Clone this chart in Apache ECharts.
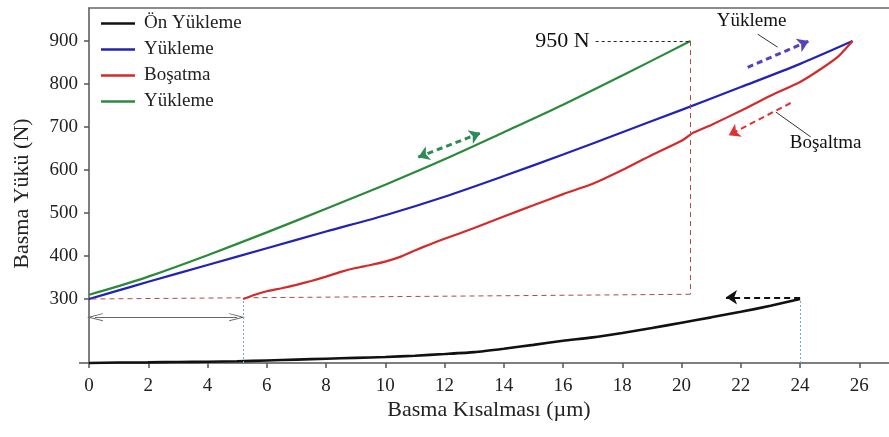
<!DOCTYPE html>
<html>
<head>
<meta charset="utf-8">
<script src="https://cdn.jsdelivr.net/npm/echarts@6/dist/echarts.min.js"></script>
<style>html,body{margin:0;padding:0;background:#fff}#c{width:889px;height:437px}</style>
</head>
<body>
<div id="c"></div>
<script>
// ---- data ----
const xTicks = [0, 2, 4, 6, 8, 10, 12, 14, 16, 18, 20, 22, 24, 26];
const yTicks = [300, 400, 500, 600, 700, 800, 900];
const onYukleme = [[0,0],[1,2],[2,3],[3,5],[4,6],[5,8],[6,12],[7,16],[8,20],[9,24],[10,28],[11,34],[12,42],[13,51],[14,67],[15,85],[16,104],[17,120],[18,141],[19,164],[20,189],[21,214],[22,240],[23,268],[24,300]];
const yukleme1 = [[0,300],[1,320],[2,340],[4,379],[6,418],[8,457],[10,495],[12,538],[14,586],[16,636],[18,688],[20,740],[22,793],[24,847],[25.77,900]];
const bosatma = [[5.2,300],[5.6,310],[6,318],[6.5,325],[7,333],[7.5,342],[8,352],[8.5,363],[9,372],[9.5,379],[10,387],[10.5,398],[11,413],[11.5,427],[12,440],[13,465],[14,492],[15,518],[16,544],[17,568],[18,600],[19,635],[20,668],[20.4,687],[21,705],[22,738],[23,773],[24,805],[24.7,835],[25.3,865],[25.77,900]];
const yukleme2 = [[0,310],[1,330],[2,352],[4,402],[6,455],[8,510],[10,566],[12,625],[14,688],[16,752],[18,820],[20.3,900]];
const peakLabel = '950 N';
const legendNames = ['Ön Yükleme', 'Yükleme', 'Boşatma', 'Yükleme '];

const FONT = 'Liberation Serif';
const chart = echarts.init(document.getElementById('c'));

function seg(a, b, sa, sb, style, label) {
  const s = { coord: a, symbol: sa || 'none', lineStyle: style };
  if (label) s.label = label;
  return [s, { coord: b, symbol: sb || 'none' }];
}
const dashed = (c, w) => ({ color: c, width: w, type: [6, 4], opacity: 1 });
const openHead = 'path://M0,12 L5,0 L10,12 L8.8,12 L5,3 L1.2,12 Z';

function textPoint(coord, name, size) {
  return { coord: coord, name: name, symbol: 'circle', symbolSize: 1,
    itemStyle: { color: 'rgba(0,0,0,0)' },
    label: { show: true, position: 'inside', formatter: '{b}', color: '#111', fontFamily: FONT, fontSize: size } };
}

const option = {
  animation: false,
  backgroundColor: '#fff',
  grid: [
    { left: 89, top: 8, width: 800, height: 291 },
    { left: 89, top: 299, width: 800, height: 64 }
  ],
  xAxis: [
    { gridIndex: 0, type: 'value', min: 0, max: 27, position: 'top',
      axisLine: { show: true, lineStyle: { color: '#666', width: 1.5 } },
      axisTick: { show: false }, axisLabel: { show: false }, splitLine: { show: false } },
    { gridIndex: 1, type: 'value', min: 0, max: 27, interval: 2,
      axisLine: { show: true, lineStyle: { color: '#555', width: 1.5 } },
      axisTick: { show: true, length: 5, inside: false, customValues: xTicks, lineStyle: { color: '#555', width: 1.5 } },
      axisLabel: { customValues: xTicks, margin: 14, color: '#222', fontFamily: FONT, fontSize: 19 },
      splitLine: { show: false },
      name: 'Basma Kısalması (µm)', nameLocation: 'middle', nameGap: 36,
      nameTextStyle: { color: '#222', fontFamily: FONT, fontSize: 22 } }
  ],
  yAxis: [
    { gridIndex: 0, type: 'value', min: 300, max: 977,
      axisLine: { show: true, lineStyle: { color: '#555', width: 1.5 } },
      axisTick: { show: true, length: 5, customValues: yTicks, lineStyle: { color: '#555', width: 1.5 } },
      axisLabel: { customValues: yTicks, margin: 11, color: '#222', fontFamily: FONT, fontSize: 19 },
      splitLine: { show: false },
      name: 'Basma Yükü (N)', nameLocation: 'middle', nameGap: 56, nameRotate: 90,
      nameTextStyle: { color: '#222', fontFamily: FONT, fontSize: 22, padding: [0, 80, 0, 0] } },
    { gridIndex: 1, type: 'value', min: 0, max: 300,
      axisLine: { show: true, lineStyle: { color: '#555', width: 1.5 } },
      axisTick: { show: true, length: 10, customValues: [0], lineStyle: { color: '#555', width: 1.5 } },
      axisLabel: { show: false }, splitLine: { show: false } }
  ],
  legend: {
    orient: 'vertical', left: 96, top: 9, itemGap: 7,
    icon: 'rect', itemWidth: 34, itemHeight: 2.5,
    data: legendNames,
    textStyle: { color: '#222', fontFamily: FONT, fontSize: 19, padding: [0, 0, 0, 4] }
  },
  series: [
    { name: legendNames[0], type: 'line', xAxisIndex: 1, yAxisIndex: 1, data: onYukleme,
      showSymbol: false, symbol: 'none', smooth: 0.2, clip: false,
      lineStyle: { color: '#111', width: 2.6 }, itemStyle: { color: '#111' },
      markLine: { silent: true, symbol: 'none', label: { show: false }, animation: false,
        data: [
          seg([0.2, 215], [5.0, 215], openHead, openHead, { color: '#666', width: 1.2, type: 'solid' }),
          seg([5.2, 0], [5.2, 300], null, null, { color: '#6ab0d8', width: 1, type: [2, 2] }),
          seg([24, 0], [24, 300], null, null, { color: '#6ab0d8', width: 1, type: [2, 2] })
        ] } },
    { name: legendNames[1], type: 'line', xAxisIndex: 0, yAxisIndex: 0, data: yukleme1,
      showSymbol: false, symbol: 'none', smooth: 0.3,
      lineStyle: { color: '#2222b8', width: 2.2 }, itemStyle: { color: '#2222b8' },
      markLine: { silent: true, symbol: 'none', label: { show: false }, animation: false, symbolSize: 11,
        data: [
          seg([22.23, 839], [24.29, 900], 'none', 'arrow', dashed('#5540c0', 3)),
          seg([22.57, 916], [23.24, 886], null, null, { color: '#333', width: 1, type: 'solid' })
        ] },
      markPoint: { silent: true, data: [ textPoint([22.36, 946], 'Yükleme', 19) ] } },
    { name: legendNames[2], type: 'line', xAxisIndex: 0, yAxisIndex: 0, data: bosatma,
      showSymbol: false, symbol: 'none', smooth: 0.2,
      lineStyle: { color: '#d42a2a', width: 2.2 }, itemStyle: { color: '#d42a2a' },
      markLine: { silent: true, symbol: 'none', label: { show: false }, animation: false, symbolSize: 11,
        data: [
          seg([23.68, 756], [21.59, 681], 'none', 'arrow', dashed('#e03030', 2)),
          seg([23.18, 735], [24.36, 677], null, null, { color: '#333', width: 1, type: 'solid' }),
          seg([24, 304], [21.5, 304], 'none', 'arrow', dashed('#111', 2))
        ] },
      markPoint: { silent: true, data: [ textPoint([24.86, 662], 'Boşaltma', 19) ] } },
    { name: legendNames[3], type: 'line', xAxisIndex: 0, yAxisIndex: 0, data: yukleme2,
      showSymbol: false, symbol: 'none', smooth: 0.3,
      lineStyle: { color: '#2a8a3a', width: 2.2 }, itemStyle: { color: '#2a8a3a' },
      markLine: { silent: true, symbol: 'none', label: { show: false }, animation: false, symbolSize: 11,
        data: [
          seg([11.11, 630], [13.21, 686], 'arrow', 'arrow', dashed('#2e8b57', 3)),
          seg([17.1, 900], [20.3, 900], null, null, { color: '#222', width: 1, type: [3, 3] },
            { show: true, position: 'start', formatter: peakLabel, color: '#111', fontFamily: FONT, fontSize: 22, distance: 6 }),
          seg([20.3, 900], [20.3, 311], null, null, { color: '#b04848', width: 1, type: [5, 4] }),
          seg([20.3, 311], [0, 300], null, null, { color: '#b04848', width: 1, type: [5, 4] })
        ] } }
  ]
};
chart.setOption(option);
</script>
</body>
</html>
